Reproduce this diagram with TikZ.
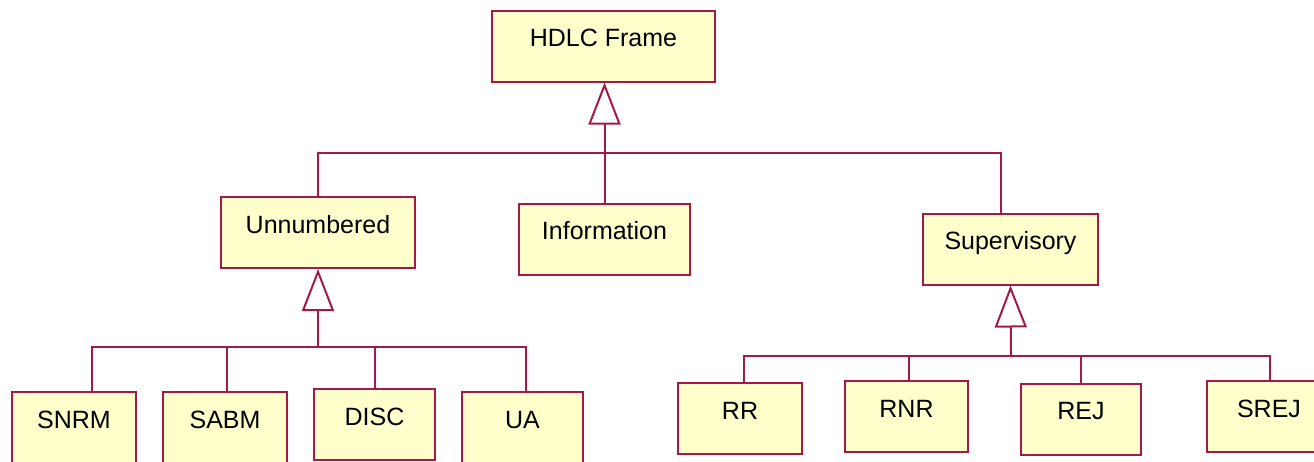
\documentclass[tikz,border=0pt]{standalone}
\usepackage{fontspec}
\setmainfont{Liberation Sans}
\usetikzlibrary{arrows.meta}

\begin{document}
\begin{tikzpicture}
		[x=1pt,y=-1pt,line cap=round,
		%Styles
		class box/.style={rectangle,draw=umlred,fill=umlfill,line width=2pt,
			minimum width=#1,inner sep=0pt,text height=36pt,text depth=35pt,
			font=\fontsize{25}{30}\selectfont},
		link/.style={draw=umlred,line width=2pt},
		inherits/.style={link,-{Triangle[open,length=42pt,width=32pt]}}
		]
		
		%Colors
		\definecolor{umlred}{RGB}{165,25,72}
		\definecolor{umlfill}{RGB}{255,255,204}
		
		\useasboundingbox (0,0) rectangle (1314,461);
		\clip (0,0) rectangle (1314,461);
		
		%The graphic
		\node[class box=223pt] (hdlc) at (603.5,46) {HDLC Frame};
		\node[class box=194pt] (unnum) at (318,232.5) {Unnumbered};
		\node[class box=171pt] (info) at (604.5,239) {Information};
		\node[class box=175pt] (super) at (1010.5,249) {Supervisory};
		
		\foreach \name/\txt/\x/\y/\w in {snrm/SNRM/74/427.5/124, sabm/SABM/225/427.5/124,
			disc/DISC/374.5/424.5/121, ua/UA/522.5/427.5/121,
			rr/RR/740/418.5/124, rnr/RNR/906.5/416.5/123,
			rej/REJ/1081/419/120, srej/SREJ/1269/416.5/124}
			\node[class box=\w pt] (\name) at (\x,\y) {\txt};
		
		%Generalisation links
		\coordinate (top bar) at (605,153);
		\draw[inherits] (info.north) -- (info.north |- hdlc.south);
		\draw[link] (unnum.north) |- (top bar) -| ([xshift=-9.5pt]super.north);
		
		\coordinate (u bar) at (318,347);
		\draw[inherits] (u bar) -- (unnum.south);
		\foreach \n/\dx in {snrm/18,sabm/2,disc/0,ua/3}
			\draw[link] (u bar) -| ([xshift=\dx pt]\n.north);
		
		\coordinate (s bar) at (1011,356);
		\draw[inherits] (s bar) -- (super.south);
		\foreach \n/\dx in {rr/4,rnr/2,rej/0,srej/1}
			\draw[link] (s bar) -| ([xshift=\dx pt]\n.north);
	\end{tikzpicture}
\end{document}
